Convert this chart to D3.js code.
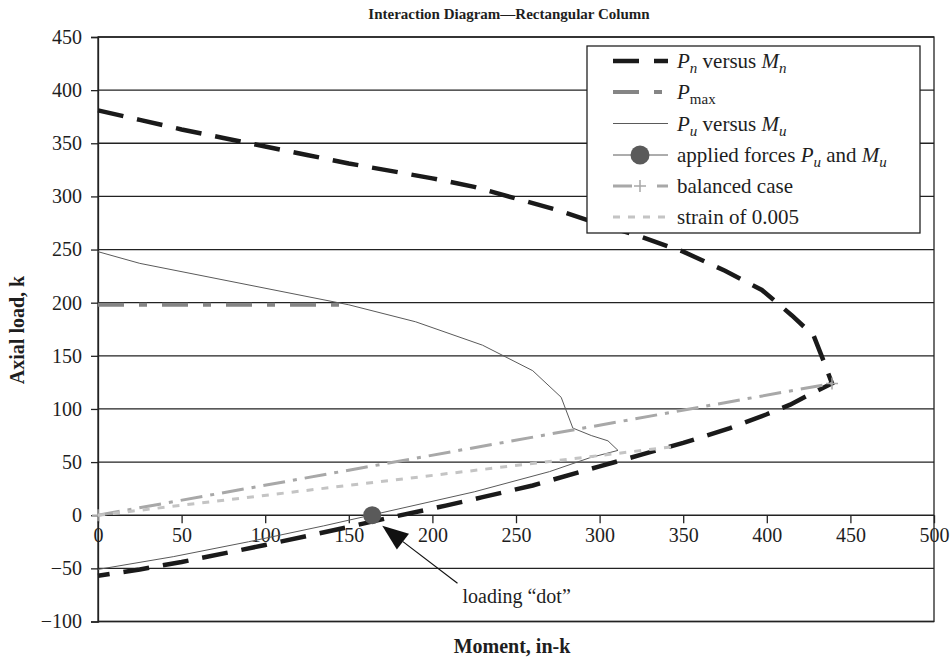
<!DOCTYPE html>
<html><head><meta charset="utf-8">
<script src="https://cdn.jsdelivr.net/npm/d3@7"></script>
<style>
body{margin:0;background:#fff;}
svg text{font-family:"Liberation Serif","DejaVu Serif",serif !important;}
</style></head><body>
<svg id="chart" width="950" height="660"></svg>
<script>
// ---- data ----
const xTicks = [0,50,100,150,200,250,300,350,400,450,500];
const yTicks = [-100,-50,0,50,100,150,200,250,300,350,400,450];

// Pn versus Mn  [Mn, Pn]
const pnMn = [[0,381],[25,372],[50,363],[75,355],[100,347],[125,339],[150,331],[175,324],[200,317],[225,309],[250,298],[275,287],[300,274],[325,262],[350,248],[375,230],[397,212],[415,188],[428,169],[434,145],[439,124],[426,114],[414,104],[400,95],[378,82],[350,68],[325,57],[300,46],[260,28],[230,17],[208,9],[175,-2],[150,-11],[100,-28],[50,-44],[25,-51],[0,-57]];
// Pmax
const pMax = [[0,198],[146,198]];
// Pu versus Mu
const puMu = [[0,248],[25,237],[150,198],[190,182],[230,160],[260,136],[277,111],[284,82],[295,75],[305,70],[311,61],[294,54],[270,41],[225,22],[180,6],[135,-10],[90,-25],[45,-39],[0,-51]];
// applied forces
const applied = [[164,0]];
// balanced case
const balanced = [[0,0],[439,124]];
// strain of 0.005
const strain = [[0,0],[347,65]];
// annotation
const annoTip = [170,-10], annoTail = [215,-64], annoText = [218,-83];

// ---- chart ----
const svg = d3.select("#chart");
const x = d3.scaleLinear().domain([0,500]).range([98,934]);
const y = d3.scaleLinear().domain([-100,450]).range([621.5,37]);
const fmt = d => d < 0 ? "\u2212" + Math.abs(d) : String(d);
const ink = "#1e1e1e";

// gridlines
svg.append("g").selectAll("line").data(yTicks).join("line")
  .attr("x1", x(0)).attr("x2", x(500))
  .attr("y1", d => y(d)).attr("y2", d => y(d))
  .attr("stroke", "#222").attr("stroke-width", 1.3);
// frame
svg.append("rect").attr("x", x(0)).attr("y", y(450)).attr("width", x(500)-x(0)).attr("height", y(-100)-y(450))
  .attr("fill","none").attr("stroke","#222").attr("stroke-width",1.3);

// y axis
const ya = svg.append("g").attr("transform", `translate(${x(0)},0)`)
  .call(d3.axisLeft(y).tickValues(yTicks).tickSize(7).tickPadding(9).tickFormat(fmt));
ya.attr("font-family", null);
ya.select(".domain").attr("stroke","#222").attr("stroke-width",1.3);
ya.selectAll(".tick line").attr("stroke","#222").attr("stroke-width",1.3);
ya.selectAll(".tick text").attr("font-size",20).attr("fill",ink);

// x axis at P = 0
const xa = svg.append("g").attr("transform", `translate(0,${y(0)})`)
  .call(d3.axisBottom(x).tickValues(xTicks).tickSize(8).tickPadding(5).tickFormat(fmt));
xa.attr("font-family", null);
xa.select(".domain").remove();
xa.selectAll(".tick line").attr("stroke","#222").attr("stroke-width",1.3);
xa.selectAll(".tick text").attr("font-size",20).attr("fill",ink);

const line = d3.line().x(d => x(d[0])).y(d => y(d[1]));

// series
svg.append("path").datum(pnMn).attr("d", line).attr("fill","none")
  .attr("stroke","#1a1a1a").attr("stroke-width",4.5).attr("stroke-dasharray","26,14");
svg.append("path").datum(pMax).attr("d", line).attr("fill","none")
  .attr("stroke","#858585").attr("stroke-width",4).attr("stroke-dasharray","26,15,8,15");
svg.append("path").datum(puMu).attr("d", line).attr("fill","none")
  .attr("stroke","#5a5a5a").attr("stroke-width",1);
svg.append("path").datum(balanced).attr("d", line).attr("fill","none")
  .attr("stroke","#a8a8a8").attr("stroke-width",3).attr("stroke-dasharray","22,8,4,8");
svg.append("g").selectAll("path").data(balanced).join("path")
  .attr("d", d => `M${x(d[0])-6},${y(d[1])}h12M${x(d[0])},${y(d[1])-6}v12`)
  .attr("stroke","#a8a8a8").attr("stroke-width",1.5);
svg.append("path").datum(strain).attr("d", line).attr("fill","none")
  .attr("stroke","#c4c4c4").attr("stroke-width",3).attr("stroke-dasharray","7,8");
svg.append("g").selectAll("circle").data(applied).join("circle")
  .attr("cx", d => x(d[0])).attr("cy", d => y(d[1])).attr("r", 9).attr("fill","#5a5a5a");

// annotation arrow
{
  const tx = x(annoTip[0]), ty = y(annoTip[1]);
  const sx = x(annoTail[0]), sy = y(annoTail[1]);
  const dx = sx - tx, dy = sy - ty, L = Math.hypot(dx, dy);
  const ux = dx / L, uy = dy / L;
  const hl = 26, hw = 10;
  const bx = tx + ux*hl, by = ty + uy*hl;
  svg.append("line").attr("x1", bx).attr("y1", by).attr("x2", sx).attr("y2", sy)
    .attr("stroke","#111").attr("stroke-width",1.2);
  svg.append("path")
    .attr("d", `M${tx},${ty}L${bx - uy*hw},${by + ux*hw}L${bx + uy*hw},${by - ux*hw}Z`)
    .attr("fill","#111");
  svg.append("text").attr("x", x(annoText[0])).attr("y", y(annoText[1]))
    .attr("font-size",20).attr("fill",ink).text("loading \u201Cdot\u201D");
}

// titles
svg.append("text").attr("x",509).attr("y",19).attr("text-anchor","middle")
  .attr("font-size",15).attr("font-weight","bold").attr("fill",ink)
  .text("Interaction Diagram\u2014Rectangular Column");
svg.append("text").attr("x",512).attr("y",653).attr("text-anchor","middle")
  .attr("font-size",20).attr("font-weight","bold").attr("fill",ink).text("Moment, in-k");
svg.append("text").attr("transform","translate(24,330) rotate(-90)").attr("text-anchor","middle")
  .attr("font-size",20).attr("font-weight","bold").attr("fill",ink).text("Axial load, k");

// legend
const lg = svg.append("g");
lg.append("rect").attr("x",587).attr("y",46).attr("width",333).attr("height",187)
  .attr("fill","#fff").attr("stroke","#222").attr("stroke-width",1.3);
const rows = [61, 92, 123.5, 155, 186, 217];
const lx1 = 613, lx2 = 668, tx0 = 677;
const sample = (i, stroke, w, dash) => lg.append("line").attr("x1",lx1).attr("x2",lx2)
  .attr("y1",rows[i]).attr("y2",rows[i]).attr("stroke",stroke).attr("stroke-width",w)
  .attr("stroke-dasharray",dash || null);
sample(0,"#1a1a1a",4.5,"26,15");
sample(1,"#858585",4,"26,15,8,15");
sample(2,"#5a5a5a",1);
sample(3,"#5a5a5a",1);
lg.append("circle").attr("cx",640).attr("cy",rows[3]).attr("r",9.5).attr("fill","#5a5a5a");
sample(4,"#a8a8a8",3,"19,25,12");
lg.append("path").attr("d",`M634,${rows[4]}h12M640,${rows[4]-6}v12`).attr("stroke","#a8a8a8").attr("stroke-width",1.5);
sample(5,"#c4c4c4",3,"7,8");

function legendText(i, parts){
  const t = lg.append("text").attr("x",tx0).attr("y",rows[i]+7).attr("font-size",21).attr("fill",ink);
  parts.forEach(p => {
    const s = t.append("tspan").text(p.t);
    if (p.i) s.attr("font-style","italic");
    if (p.sub) { s.attr("font-size",15).attr("dy",5); }
    if (p.up) { s.attr("dy",-5); }
  });
}
legendText(0,[{t:"P",i:1},{t:"n",i:1,sub:1},{t:" versus ",up:1},{t:"M",i:1},{t:"n",i:1,sub:1}]);
legendText(1,[{t:"P",i:1},{t:"max",sub:1}]);
legendText(2,[{t:"P",i:1},{t:"u",i:1,sub:1},{t:" versus ",up:1},{t:"M",i:1},{t:"u",i:1,sub:1}]);
legendText(3,[{t:"applied forces "},{t:"P",i:1},{t:"u",i:1,sub:1},{t:" and ",up:1},{t:"M",i:1},{t:"u",i:1,sub:1}]);
legendText(4,[{t:"balanced case"}]);
legendText(5,[{t:"strain of 0.005"}]);
</script>
</body></html>
